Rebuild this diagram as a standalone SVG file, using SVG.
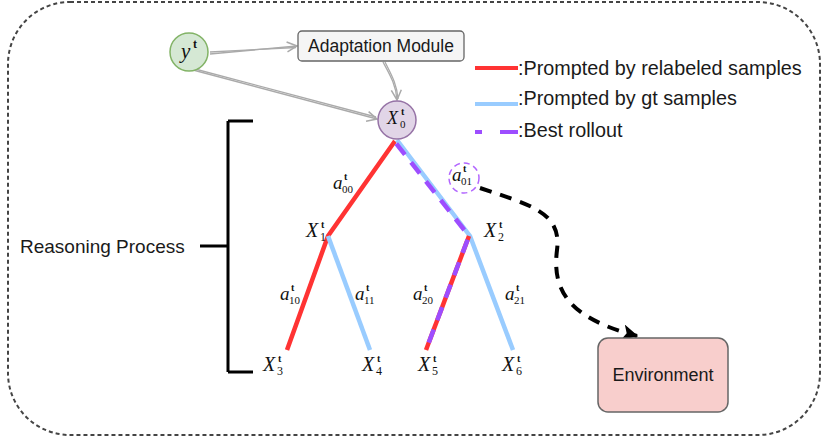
<svg xmlns="http://www.w3.org/2000/svg" width="837" height="438" viewBox="0 0 837 438">
<defs>
<style>
.sans{font-family:"Liberation Sans",Arial,sans-serif;fill:#1a1a1a}
.m{font-family:"Liberation Serif","Times New Roman",serif;font-style:italic;fill:#111}
.mn{font-family:"Liberation Serif","Times New Roman",serif;font-style:normal;fill:#111}
.ga{fill:none;stroke:#aaaaaa;stroke-width:1.3}
.red{stroke:#ff3333;stroke-width:4.5;fill:none}
.blue{stroke:#99ccff;stroke-width:4.5;fill:none}
.pur{stroke:#9d4dff;stroke-width:4.5;fill:none;stroke-dasharray:14 10}
</style>
<marker id="open" viewBox="0 0 12 12" refX="11" refY="6" markerWidth="12" markerHeight="12" markerUnits="userSpaceOnUse" orient="auto">
<path d="M1 1 L11 6 L1 11" fill="none" stroke="#aaaaaa" stroke-width="1.5"/>
</marker>
<marker id="blk" viewBox="0 0 12 12" refX="11" refY="6" markerWidth="16" markerHeight="16" markerUnits="userSpaceOnUse" orient="auto">
<path d="M0 0 L12 6 L0 12 L3 6 Z" fill="#000"/>
</marker>
</defs>
<rect x="8" y="2" width="812" height="433" rx="62" fill="#fff" stroke="#444" stroke-width="2" stroke-dasharray="4 3"/>

<g id="connectors">
<path class="ga" d="M210 54 L297 46" marker-end="url(#open)"/>
<path class="ga" d="M210 52 L296 47.5"/>
<path class="ga" d="M193 70 L377 119" marker-end="url(#open)"/>
<path class="ga" d="M195 69 L376 117"/>
<path class="ga" d="M383 62 C390 75 396 85 397 100" marker-end="url(#open)"/>
<path class="ga" d="M385 62 C391 74 397 84 398 99"/>
<path class="red" d="M395 141 L328 236 L287 350"/>
<path class="blue" d="M328 236 L370 350"/>
<path class="blue" d="M397 140 L470 236 L513 350"/>
<path class="pur" d="M395 142 L469 236" stroke-dashoffset="-2"/>
<path class="red" d="M469 236 L426 350"/>
<path class="pur" d="M469 236 L426 350" stroke-dasharray="10 12" stroke-dashoffset="-4"/>
<path d="M480 188 C530 205 562 212 557 250 C552 290 568 318 637 336" fill="none" stroke="#000" stroke-width="4" stroke-dasharray="12 9" marker-end="url(#blk)"/>
<path d="M228 121 L228 372 M253 121 L228 121 M228 372 L253 372 M200 246 L228 246" fill="none" stroke="#000" stroke-width="3"/>
</g>

<g id="node-y">
<circle cx="189" cy="52" r="19" fill="#d5e8d4" stroke="#82b366" stroke-width="1.5"/>
<text class="m" x="181" y="58" font-size="21">y</text><text class="mn" x="193" y="48" font-size="12" font-weight="bold">t</text>
</g>
<g id="node-adapt">
<rect x="298" y="31" width="166" height="30" rx="4" fill="#f5f5f5" stroke="#666" stroke-width="1.3"/>
<text class="sans" x="381" y="52" font-size="17.5" text-anchor="middle">Adaptation Module</text>
</g>
<g id="node-x0">
<circle cx="397" cy="120" r="19" fill="#e1d5e7" stroke="#9673a6" stroke-width="1.5"/>
<text class="m" x="387" y="124" font-size="18">X</text><text class="mn" x="400" y="128" font-size="11">0</text><text class="mn" x="401" y="115" font-size="10" font-weight="bold">t</text>
</g>
<g id="node-x1">
<text class="m" x="306" y="237" font-size="20">X</text><text class="mn" x="320" y="241" font-size="12">1</text><text class="mn" x="321" y="228" font-size="10" font-weight="bold">t</text>
</g>
<g id="node-x2">
<text class="m" x="484" y="237" font-size="20">X</text><text class="mn" x="498" y="241" font-size="12">2</text><text class="mn" x="499" y="228" font-size="10" font-weight="bold">t</text>
</g>
<g id="node-x3">
<text class="m" x="263" y="371" font-size="20">X</text><text class="mn" x="277" y="375" font-size="12">3</text><text class="mn" x="278" y="362" font-size="10" font-weight="bold">t</text>
</g>
<g id="node-x4">
<text class="m" x="362" y="371" font-size="20">X</text><text class="mn" x="376" y="375" font-size="12">4</text><text class="mn" x="377" y="362" font-size="10" font-weight="bold">t</text>
</g>
<g id="node-x5">
<text class="m" x="418" y="371" font-size="20">X</text><text class="mn" x="432" y="375" font-size="12">5</text><text class="mn" x="433" y="362" font-size="10" font-weight="bold">t</text>
</g>
<g id="node-x6">
<text class="m" x="502" y="371" font-size="20">X</text><text class="mn" x="516" y="375" font-size="12">6</text><text class="mn" x="517" y="362" font-size="10" font-weight="bold">t</text>
</g>
<g id="labels-a">
<text class="m" x="333" y="189" font-size="19">a</text><text class="mn" x="342" y="193" font-size="11">00</text><text class="mn" x="344" y="180" font-size="10" font-weight="bold">t</text>
<circle cx="464" cy="178" r="15" fill="#fff" stroke="#b266ff" stroke-width="1.5" stroke-dasharray="6 4"/>
<text class="m" x="452" y="181" font-size="19">a</text><text class="mn" x="461" y="185" font-size="11">01</text><text class="mn" x="463" y="172" font-size="10" font-weight="bold">t</text>
<text class="m" x="280" y="300" font-size="19">a</text><text class="mn" x="289" y="304" font-size="11">10</text><text class="mn" x="291" y="291" font-size="10" font-weight="bold">t</text>
<text class="m" x="355" y="300" font-size="19">a</text><text class="mn" x="364" y="304" font-size="11">11</text><text class="mn" x="366" y="291" font-size="10" font-weight="bold">t</text>
<text class="m" x="413" y="300" font-size="19">a</text><text class="mn" x="422" y="304" font-size="11">20</text><text class="mn" x="424" y="291" font-size="10" font-weight="bold">t</text>
<text class="m" x="505" y="300" font-size="19">a</text><text class="mn" x="514" y="304" font-size="11">21</text><text class="mn" x="516" y="291" font-size="10" font-weight="bold">t</text>
</g>
<g id="node-env">
<rect x="598" y="338" width="130" height="74" rx="10" fill="#f8cecc" stroke="#666" stroke-width="1.5"/>
<text class="sans" x="663" y="381" font-size="18" text-anchor="middle">Environment</text>
</g>
<g id="label-reasoning">
<text class="sans" x="20" y="253" font-size="19">Reasoning Process</text>
</g>
<g id="legend">
<line x1="475" y1="68" x2="518" y2="68" stroke="#ff3333" stroke-width="4"/>
<text class="sans" x="518" y="75" font-size="19.8" fill="#000">:Prompted by relabeled samples</text>
<line x1="475" y1="104" x2="518" y2="104" stroke="#99ccff" stroke-width="4"/>
<text class="sans" x="518" y="105" font-size="19.8" fill="#000">:Prompted by gt samples</text>
<line x1="475" y1="132" x2="482" y2="132" stroke="#9d4dff" stroke-width="4"/>
<line x1="500" y1="132" x2="518" y2="132" stroke="#9d4dff" stroke-width="4"/>
<text class="sans" x="518" y="137" font-size="19.8" fill="#000">:Best rollout</text>
</g>
</svg>
